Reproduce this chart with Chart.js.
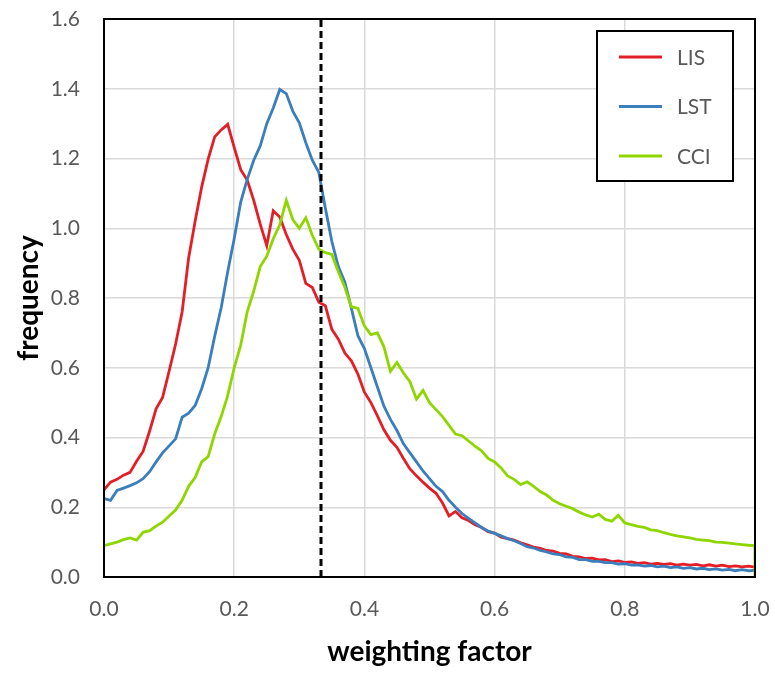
<!DOCTYPE html>
<html>
<head>
<meta charset="utf-8">
<script src="https://cdn.jsdelivr.net/npm/chart.js@4.4.0/dist/chart.umd.min.js"></script>
<style>
body { margin: 0; background: #fff; }
</style>
</head>
<body>
<canvas id="myChart" width="775" height="673"></canvas>
<script>
// weighting factor, 0.00 .. 1.00 in steps of 0.01
var xValues = [0.00,0.01,0.02,0.03,0.04,0.05,0.06,0.07,0.08,0.09,
	0.10,0.11,0.12,0.13,0.14,0.15,0.16,0.17,0.18,0.19,
	0.20,0.21,0.22,0.23,0.24,0.25,0.26,0.27,0.28,0.29,
	0.30,0.31,0.32,0.33,0.34,0.35,0.36,0.37,0.38,0.39,
	0.40,0.41,0.42,0.43,0.44,0.45,0.46,0.47,0.48,0.49,
	0.50,0.51,0.52,0.53,0.54,0.55,0.56,0.57,0.58,0.59,
	0.60,0.61,0.62,0.63,0.64,0.65,0.66,0.67,0.68,0.69,
	0.70,0.71,0.72,0.73,0.74,0.75,0.76,0.77,0.78,0.79,
	0.80,0.81,0.82,0.83,0.84,0.85,0.86,0.87,0.88,0.89,
	0.90,0.91,0.92,0.93,0.94,0.95,0.96,0.97,0.98,0.99,1.00];

var lis = [0.250,0.272,0.280,0.292,0.300,0.332,0.360,0.418,0.482,0.515,
	0.590,0.668,0.760,0.915,1.020,1.118,1.198,1.262,1.282,1.298,
	1.232,1.168,1.138,1.080,1.012,0.950,1.050,1.032,0.982,0.940,
	0.908,0.842,0.830,0.788,0.778,0.710,0.682,0.642,0.620,0.582,
	0.530,0.500,0.462,0.422,0.392,0.372,0.340,0.310,0.290,0.272,
	0.255,0.240,0.212,0.175,0.188,0.170,0.162,0.150,0.142,0.130,
	0.126,0.114,0.110,0.106,0.098,0.092,0.086,0.082,0.076,0.074,
	0.068,0.066,0.059,0.058,0.053,0.054,0.049,0.050,0.044,0.046,
	0.042,0.043,0.039,0.041,0.037,0.039,0.036,0.038,0.034,0.037,
	0.034,0.036,0.032,0.035,0.031,0.034,0.030,0.032,0.029,0.031,0.028];

var lst = [0.225,0.220,0.248,0.255,0.262,0.270,0.282,0.302,0.330,0.356,
	0.376,0.396,0.458,0.470,0.492,0.540,0.600,0.690,0.772,0.875,
	0.970,1.075,1.140,1.195,1.236,1.300,1.345,1.398,1.386,1.336,
	1.302,1.245,1.195,1.160,1.058,0.962,0.890,0.845,0.770,0.692,
	0.655,0.600,0.545,0.490,0.452,0.420,0.382,0.356,0.330,0.304,
	0.282,0.260,0.245,0.220,0.200,0.182,0.168,0.155,0.142,0.132,
	0.125,0.118,0.110,0.104,0.096,0.087,0.083,0.076,0.072,0.066,
	0.064,0.058,0.056,0.050,0.050,0.045,0.045,0.041,0.041,0.037,
	0.038,0.034,0.035,0.031,0.033,0.029,0.031,0.027,0.029,0.025,
	0.027,0.023,0.025,0.021,0.023,0.020,0.022,0.018,0.021,0.018,0.019];

var cci = [0.090,0.095,0.100,0.107,0.112,0.106,0.128,0.133,0.146,0.157,
	0.175,0.192,0.220,0.260,0.285,0.330,0.345,0.410,0.460,0.520,
	0.600,0.665,0.760,0.820,0.890,0.920,0.970,1.010,1.080,1.025,
	1.000,1.030,0.980,0.940,0.930,0.925,0.875,0.830,0.775,0.770,
	0.720,0.695,0.700,0.660,0.590,0.615,0.585,0.560,0.510,0.535,
	0.500,0.480,0.460,0.435,0.410,0.405,0.390,0.375,0.362,0.340,
	0.330,0.313,0.290,0.280,0.265,0.273,0.260,0.245,0.235,0.220,
	0.210,0.203,0.196,0.186,0.178,0.172,0.180,0.165,0.160,0.177,
	0.155,0.150,0.145,0.142,0.135,0.133,0.127,0.122,0.118,0.115,
	0.112,0.108,0.106,0.104,0.100,0.099,0.097,0.095,0.093,0.091,0.090];

var seriesNames = ['LIS', 'LST', 'CCI'];
var seriesColors = ['#E41E26', '#3A7EBB', '#8FD600'];

// dashed marker at one third
var markX = [1 / 3, 1 / 3];
var markY = [0, 1.6];

var yTicks = [0, 0.2, 0.4, 0.6, 0.8, 1.0, 1.2, 1.4, 1.6];
var xTicks = [0, 0.2, 0.4, 0.6, 0.8, 1.0];

function toPoints(xs, ys) {
	var pts = [];
	for (var i = 0; i < ys.length; i++) pts.push({x: xs[i], y: ys[i]});
	return pts;
}

var cciPoints = toPoints(xValues, cci);
cciPoints.push({x: 1.0, y: 0}); // curve drops to zero at the edge

var frame = {
	id: 'frame',
	afterDraw: function(chart) {
		var ctx = chart.ctx;
		var a = chart.chartArea;
		ctx.save();
		ctx.strokeStyle = '#000';
		ctx.lineWidth = 2;
		ctx.strokeRect(a.left, a.top, a.right - a.left, a.bottom - a.top);

		// legend box
		var bx = a.left + 493, by = a.top + 12;
		ctx.fillStyle = '#fff';
		ctx.fillRect(bx, by, 136, 150);
		ctx.strokeRect(bx, by, 136, 150);
		ctx.font = '21px Lato';
		ctx.textBaseline = 'middle';
		for (var i = 0; i < seriesNames.length; i++) {
			var ly = by + 26 + i * 49.5;
			ctx.strokeStyle = seriesColors[i];
			ctx.lineWidth = 3;
			ctx.beginPath();
			ctx.moveTo(bx + 22, ly);
			ctx.lineTo(bx + 65, ly);
			ctx.stroke();
			ctx.fillStyle = '#595959';
			ctx.fillText(seriesNames[i], bx + 80, ly + 1);
		}
		ctx.restore();
	}
};

var myChart = document.getElementById('myChart').getContext('2d');

var chart = new Chart(myChart, {
	type: 'line',
	data: {
		datasets: [
		{
			label: seriesNames[0],
			data: toPoints(xValues, lis),
			borderColor: seriesColors[0],
			borderWidth: 2.8,
			pointRadius: 0,
			tension: 0,
			order: 3
		},
		{
			label: seriesNames[1],
			data: toPoints(xValues, lst),
			borderColor: seriesColors[1],
			borderWidth: 2.8,
			pointRadius: 0,
			tension: 0,
			order: 2
		},
		{
			label: seriesNames[2],
			data: cciPoints,
			borderColor: seriesColors[2],
			borderWidth: 2.8,
			pointRadius: 0,
			tension: 0,
			order: 1
		},
		{
			label: 'mark',
			data: toPoints(markX, markY),
			borderColor: '#000',
			borderWidth: 3,
			borderDash: [7, 4],
			pointRadius: 0,
			order: 0
		}
		]
	},
	options: {
		responsive: false,
		animation: false,
		devicePixelRatio: 1,
		layout: {
			padding: {top: 19, right: 20, left: 0, bottom: 0}
		},
		plugins: {
			legend: {display: false},
			tooltip: {enabled: false}
		},
		scales: {
			x: {
				type: 'linear',
				min: 0,
				max: 1,
				afterBuildTicks: function(scale) {
					scale.ticks = xTicks.map(function(v) { return {value: v}; });
				},
				afterFit: function(scale) {
					scale.height = 96;
					scale.paddingLeft = 0;
					scale.paddingRight = 0;
				},
				ticks: {
					padding: 20,
					color: '#595959',
					font: {family: 'Lato', size: 21},
					callback: function(v) { return v.toFixed(1); }
				},
				grid: {color: '#D9D9D9', lineWidth: 1.5, drawTicks: false},
				border: {display: false},
				title: {
					display: true,
					text: 'weighting factor',
					color: '#000',
					font: {family: 'Lato', size: 28, weight: 'bold'},
					padding: {top: 0, bottom: 4}
				}
			},
			y: {
				min: 0,
				max: 1.6,
				afterBuildTicks: function(scale) {
					scale.ticks = yTicks.map(function(v) { return {value: v}; });
				},
				afterFit: function(scale) {
					scale.width = 104;
					scale.paddingTop = 0;
					scale.paddingBottom = 0;
				},
				ticks: {
					padding: 24,
					color: '#595959',
					font: {family: 'Lato', size: 21},
					callback: function(v) { return v.toFixed(1); }
				},
				grid: {color: '#D9D9D9', lineWidth: 1.5, drawTicks: false},
				border: {display: false},
				title: {
					display: true,
					text: 'frequency',
					color: '#000',
					font: {family: 'Lato', size: 28, weight: 'bold'},
					padding: {top: 12, bottom: 0}
				}
			}
		}
	},
	plugins: [frame]
});
</script>
</body>
</html>
